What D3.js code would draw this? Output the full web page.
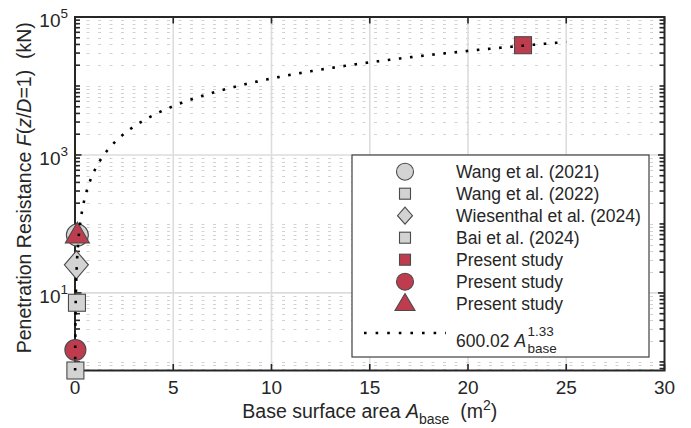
<!DOCTYPE html>
<html>
<head>
<meta charset="utf-8">
<script src="https://cdn.jsdelivr.net/npm/d3@7"></script>
<style>
  html, body { margin: 0; padding: 0; background: #fff; }
  svg { display: block; font-family: "Liberation Sans", Arial, Helvetica, sans-serif; }
  text { white-space: pre; }
</style>
</head>
<body>
<svg id="chart" width="691" height="428"></svg>
<script>
// ---- data -------------------------------------------------------------
const xTickValues = [0, 5, 10, 15, 20, 25, 30];
const yTickExponents = [1, 3, 5];          // labelled decades: 10^1, 10^3, 10^5
const yDomain = [0.75, 1e5];
const xDomain = [0, 30];

const seriesNames = [
  "Wang et al. (2021)",
  "Wang et al. (2022)",
  "Wiesenthal et al. (2024)",
  "Bai et al. (2024)",
  "Present study",
  "Present study",
  "Present study"
];
const seriesShapes = ["circle", "square", "diamond", "square", "square", "circle", "triangle"];
const seriesFills  = ["gray", "gray", "gray", "gray", "red", "red", "red"];
// base surface area (m^2) and penetration resistance (kN) of each point
const seriesArea  = [0.12, 0.02, 0.07, 0.10, 22.8, 0.02, 0.12];
const seriesForce = [69, 0.75, 25.5, 7.2, 39000, 1.49, 70];

// power-law fit F = a * A^b
const fitCoef = 600.02;
const fitExp = 1.33;
const fitAreaMax = 25;

// ---- layout -----------------------------------------------------------
const svg = d3.select("#chart");
const pLeft = 75, pRight = 664.5, pTop = 17, pBottom = 370.5;
const axisColor = "#262626";
const grayFill = "#d3d3d3", redFill = "#bf3c4e", markStroke = "#4a4a4a";

const x = d3.scaleLinear().domain(xDomain).range([pLeft, pRight]);
const y = d3.scaleLog().domain(yDomain).range([pBottom, pTop]);

// ---- grid -------------------------------------------------------------
const grid = svg.append("g");
const majorY = yTickExponents.map(e => Math.pow(10, e));
const minorY = [];
for (let k = -1; k <= 4; k++) {
  for (let m = 1; m <= 9; m++) {
    const v = m * Math.pow(10, k);
    if (v < yDomain[0] || v > yDomain[1]) continue;
    if (m === 1 && yTickExponents.includes(k)) continue;
    minorY.push(v);
  }
}
grid.selectAll("line.minor").data(minorY).join("line")
  .attr("x1", pLeft).attr("x2", pRight)
  .attr("y1", d => Math.round(y(d)) + 0.5).attr("y2", d => Math.round(y(d)) + 0.5)
  .attr("stroke", "#d2d2d2").attr("stroke-width", 1)
  .attr("stroke-dasharray", "3 8.5");
grid.selectAll("line.majy").data(majorY.filter(v => v < yDomain[1])).join("line")
  .attr("x1", pLeft).attr("x2", pRight)
  .attr("y1", d => y(d)).attr("y2", d => y(d))
  .attr("stroke", "#dcdcdc").attr("stroke-width", 1.6);
grid.selectAll("line.majx").data(xTickValues.slice(1, -1)).join("line")
  .attr("x1", d => x(d)).attr("x2", d => x(d))
  .attr("y1", pTop).attr("y2", pBottom)
  .attr("stroke", "#dcdcdc").attr("stroke-width", 1.6);

// ---- axes (ticks inside, box) ----------------------------------------
const axes = svg.append("g");
const tickMajor = 6.5, tickMinor = 5;
xTickValues.forEach(v => {
  axes.append("line").attr("x1", x(v)).attr("x2", x(v))
    .attr("y1", pBottom).attr("y2", pBottom - tickMajor)
    .attr("stroke", axisColor).attr("stroke-width", 1.6);
  axes.append("line").attr("x1", x(v)).attr("x2", x(v))
    .attr("y1", pTop).attr("y2", pTop + tickMajor)
    .attr("stroke", axisColor).attr("stroke-width", 1.6);
});
majorY.forEach(v => {
  [[pLeft, 1], [pRight, -1]].forEach(([x0, dir]) => {
    axes.append("line").attr("x1", x0).attr("x2", x0 + dir * tickMajor)
      .attr("y1", y(v)).attr("y2", y(v))
      .attr("stroke", axisColor).attr("stroke-width", 1.6);
  });
});
minorY.forEach(v => {
  [[pLeft, 1], [pRight, -1]].forEach(([x0, dir]) => {
    axes.append("line").attr("x1", x0).attr("x2", x0 + dir * tickMinor)
      .attr("y1", y(v)).attr("y2", y(v))
      .attr("stroke", axisColor).attr("stroke-width", 1.6);
  });
});
axes.append("rect")
  .attr("x", pLeft).attr("y", pTop)
  .attr("width", pRight - pLeft).attr("height", pBottom - pTop)
  .attr("fill", "none").attr("stroke", axisColor).attr("stroke-width", 2);

// x tick labels
svg.append("g").selectAll("text").data(xTickValues).join("text")
  .attr("x", d => x(d)).attr("y", pBottom + 23)
  .attr("text-anchor", "middle").attr("font-size", 19).attr("fill", "#262626")
  .text(d => d);

// y tick labels: 10 with superscript exponent
yTickExponents.forEach(e => {
  const t = svg.append("text")
    .attr("x", pLeft - 7).attr("y", y(Math.pow(10, e)) + 10)
    .attr("text-anchor", "end").attr("font-size", 19).attr("fill", "#262626");
  t.append("tspan").text("10");
  t.append("tspan").attr("dy", -9).attr("font-size", 13.5).text(e);
});

// axis titles
const xl = svg.append("text")
  .attr("x", (pLeft + pRight) / 2).attr("y", 418)
  .attr("text-anchor", "middle").attr("font-size", 19.5).attr("fill", "#262626");
xl.append("tspan").text("Base surface area ");
xl.append("tspan").attr("font-style", "italic").text("A");
xl.append("tspan").attr("font-size", 14).attr("dy", 6).text("base");
xl.append("tspan").attr("dy", -6).text("  (m");
xl.append("tspan").attr("font-size", 14).attr("dy", -8).text("2");
xl.append("tspan").attr("dy", 8).text(")");

const yl = svg.append("text")
  .attr("transform", `translate(31,${(pTop + pBottom) / 2 - 6}) rotate(-90)`)
  .attr("text-anchor", "middle").attr("font-size", 19.5).attr("fill", "#262626");
yl.append("tspan").text("Penetration Resistance ");
yl.append("tspan").attr("font-style", "italic").text("F");
yl.append("tspan").text("(");
yl.append("tspan").attr("font-style", "italic").text("z");
yl.append("tspan").text("/");
yl.append("tspan").attr("font-style", "italic").text("D");
yl.append("tspan").text("=1)  (kN)");

// ---- markers ----------------------------------------------------------
function drawMarker(g, shape, fill, cx, cy, s) {
  const fc = fill === "red" ? redFill : grayFill;
  let el;
  if (shape === "circle") {
    el = g.append("circle").attr("cx", cx).attr("cy", cy).attr("r", s.r);
  } else if (shape === "square") {
    el = g.append("rect").attr("x", cx - s.w / 2).attr("y", cy - s.w / 2)
      .attr("width", s.w).attr("height", s.w);
  } else if (shape === "diamond") {
    el = g.append("path").attr("d",
      `M${cx},${cy - s.h / 2}L${cx + s.w / 2},${cy}L${cx},${cy + s.h / 2}L${cx - s.w / 2},${cy}Z`);
  } else {
    el = g.append("path").attr("d",
      `M${cx},${cy - s.h * 0.6}L${cx + s.w / 2},${cy + s.h * 0.4}L${cx - s.w / 2},${cy + s.h * 0.4}Z`);
  }
  el.attr("fill", fc).attr("stroke", markStroke).attr("stroke-width", 1.1);
}

const plotSizes = {
  circle: [{ r: 11 }, { r: 10.5 }],
  square: { w: 17 },
  diamond: { w: 24, h: 28 },
  triangle: { w: 24, h: 21 }
};
const markers = svg.append("g");
seriesShapes.forEach((shape, i) => {
  let s = plotSizes[shape];
  if (shape === "circle") s = seriesFills[i] === "red" ? s[1] : s[0];
  drawMarker(markers, shape, seriesFills[i], x(seriesArea[i]), y(seriesForce[i]), s);
});

// ---- fitted power law (dotted) ----------------------------------------
const aStart = Math.pow(yDomain[0] / fitCoef, 1 / fitExp);
const fitPts = [];
const nLog = 200;
for (let i = 0; i <= nLog; i++) {
  const a = aStart * Math.pow(0.5 / aStart, i / nLog);
  fitPts.push(a);
}
for (let a = 0.55; a <= fitAreaMax + 1e-9; a += 0.05) fitPts.push(a);
const fitLine = d3.line()
  .x(a => x(a))
  .y(a => y(fitCoef * Math.pow(a, fitExp)));
svg.append("path")
  .attr("d", fitLine(fitPts))
  .attr("fill", "none").attr("stroke", "#000")
  .attr("stroke-width", 2.6).attr("stroke-dasharray", "2.6 8.6");

// ---- legend -----------------------------------------------------------
const lg = svg.append("g");
const lgX = 352, lgY = 155, lgW = 297, lgH = 202;
lg.append("rect").attr("x", lgX).attr("y", lgY).attr("width", lgW).attr("height", lgH)
  .attr("fill", "#fff").attr("stroke", "#404040").attr("stroke-width", 1.2);
const legendSizes = {
  circle: { r: 8.5 },
  square: { w: 11 },
  diamond: { w: 15, h: 17 },
  triangle: { w: 20, h: 17 }
};
const symX = 405, textX = 456;
seriesNames.forEach((name, i) => {
  const cy = 171.7 + 22 * i;
  drawMarker(lg, seriesShapes[i], seriesFills[i], symX, cy, legendSizes[seriesShapes[i]]);
  lg.append("text").attr("x", textX).attr("y", cy + 6.5)
    .attr("font-size", 17.5).attr("fill", "#262626").text(name);
});
const fitRowY = 333;
lg.append("line").attr("x1", 364).attr("x2", 446)
  .attr("y1", fitRowY).attr("y2", fitRowY)
  .attr("stroke", "#000").attr("stroke-width", 2.6).attr("stroke-dasharray", "2.6 9");
const ft = lg.append("text").attr("x", textX).attr("y", 347)
  .attr("font-size", 17.5).attr("fill", "#262626");
ft.append("tspan").text(fitCoef.toFixed(2) + " ");
ft.append("tspan").attr("font-style", "italic").text("A");
const ftEnd = textX + ft.node().getComputedTextLength() + 1.5;
lg.append("text").attr("x", ftEnd).attr("y", 336)
  .attr("font-size", 13.5).attr("fill", "#262626").text(fitExp.toFixed(2));
lg.append("text").attr("x", ftEnd).attr("y", 353)
  .attr("font-size", 13.5).attr("fill", "#262626").text("base");
</script>
</body>
</html>
